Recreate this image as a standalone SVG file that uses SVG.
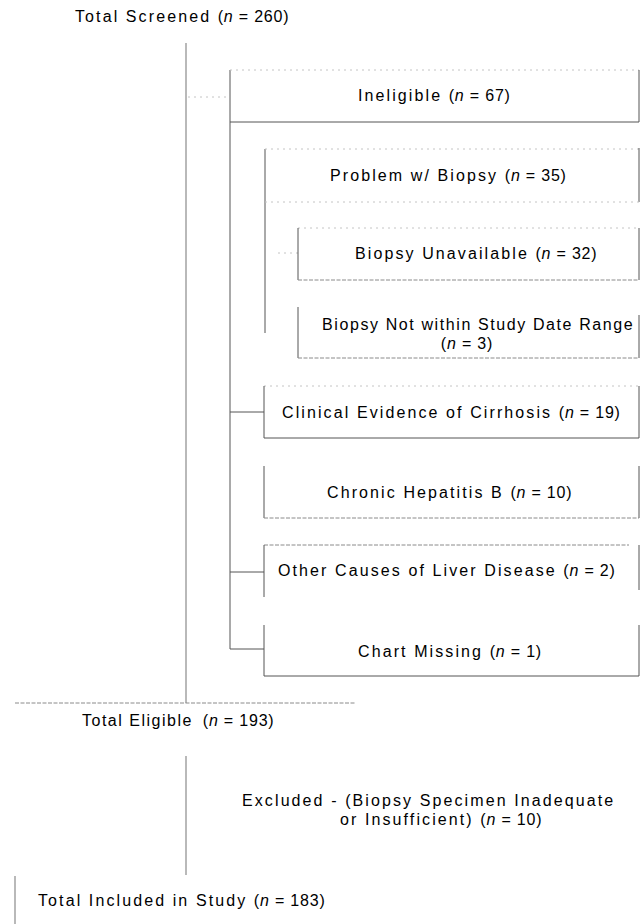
<svg xmlns="http://www.w3.org/2000/svg" width="642" height="924" viewBox="0 0 642 924">
<style>
text{font-family:"Liberation Sans",Arial,sans-serif;font-size:16px;fill:#000;letter-spacing:2.1px}
.p{letter-spacing:0.8px}
.i{font-style:italic}
.solid{stroke:#555;stroke-width:1;fill:none}
.faint{stroke:#c4c4c4;stroke-width:1;stroke-dasharray:2 4;fill:none}
.dot{stroke:#8a8a8a;stroke-width:1;stroke-dasharray:4 1.5;fill:none}
.main{stroke:#a8a8a8;stroke-width:1.6;fill:none}
</style>
<rect width="642" height="924" fill="#fff"/>
<g id="connectors">
<line class="main" x1="186" y1="43" x2="186" y2="703"/>
<line class="dot" x1="15" y1="703" x2="355" y2="703"/>
<line class="faint" x1="188" y1="97" x2="230" y2="97"/>
<line class="solid" x1="230" y1="70" x2="230" y2="649"/>
<line class="solid" x1="265" y1="149" x2="265" y2="333"/>
<line class="faint" x1="278" y1="253" x2="298" y2="253"/>
<line class="solid" stroke="#888" x1="230" y1="412" x2="264" y2="412"/>
<line class="solid" stroke="#888" x1="230" y1="572" x2="264" y2="572"/>
<line class="solid" x1="230" y1="649" x2="264" y2="649"/>
<line class="main" x1="186" y1="756" x2="186" y2="875"/>
<line class="main" x1="15" y1="876" x2="15" y2="924"/>
</g>
<g id="total-screened">
<text x="75" y="22">Total Screened <tspan class="p">(<tspan class="i">n</tspan> = 260)</tspan></text>
</g>
<g id="ineligible">
<line class="faint" x1="230" y1="70" x2="639" y2="70"/>
<line class="solid" x1="639" y1="70" x2="639" y2="122"/>
<line class="solid" x1="230" y1="122" x2="639" y2="122"/>
<text x="358" y="101">Ineligible <tspan class="p">(<tspan class="i">n</tspan> = 67)</tspan></text>
</g>
<g id="problem-biopsy">
<line class="faint" x1="265" y1="149" x2="639" y2="149"/>
<line class="solid" x1="639" y1="148" x2="639" y2="202"/>
<line class="faint" x1="265" y1="202" x2="639" y2="202"/>
<text x="330" y="181">Problem w/ Biopsy <tspan class="p">(<tspan class="i">n</tspan> = 35)</tspan></text>
</g>
<g id="biopsy-unavailable">
<line class="faint" x1="298" y1="228" x2="639" y2="228"/>
<line class="solid" x1="298" y1="228" x2="298" y2="280"/>
<line class="solid" x1="639" y1="228" x2="639" y2="280"/>
<line class="dot" x1="298" y1="280" x2="639" y2="280"/>
<text x="355" y="259">Biopsy Unavailable <tspan class="p">(<tspan class="i">n</tspan> = 32)</tspan></text>
</g>
<g id="biopsy-date-range">
<line class="solid" x1="298" y1="307" x2="298" y2="358"/>
<line class="solid" x1="639" y1="315" x2="639" y2="358"/>
<line class="dot" x1="298" y1="358" x2="639" y2="358"/>
<text x="322" y="330" style="letter-spacing:1.6px">Biopsy Not within Study Date Range</text>
<text x="467" y="349" text-anchor="middle" class="p">(<tspan class="i">n</tspan> = 3)</text>
</g>
<g id="cirrhosis">
<line class="faint" x1="264" y1="386" x2="639" y2="386"/>
<line class="solid" x1="264" y1="386" x2="264" y2="438"/>
<line class="solid" x1="639" y1="386" x2="639" y2="438"/>
<line class="solid" stroke="#777" x1="264" y1="438" x2="639" y2="438"/>
<text x="282" y="418">Clinical Evidence of Cirrhosis <tspan class="p">(<tspan class="i">n</tspan> = 19)</tspan></text>
</g>
<g id="hepatitis-b">
<line class="solid" x1="264" y1="466" x2="264" y2="518"/>
<line class="solid" x1="639" y1="466" x2="639" y2="518"/>
<line class="dot" x1="264" y1="518" x2="639" y2="518"/>
<text x="327" y="498">Chronic Hepatitis B <tspan class="p">(<tspan class="i">n</tspan> = 10)</tspan></text>
</g>
<g id="other-causes">
<line class="dot" x1="264" y1="545" x2="629" y2="545"/>
<line class="solid" x1="264" y1="545" x2="264" y2="597"/>
<line class="solid" x1="639" y1="545" x2="639" y2="590"/>
<text x="278" y="576">Other Causes of Liver Disease <tspan class="p">(<tspan class="i">n</tspan> = 2)</tspan></text>
</g>
<g id="chart-missing">
<line class="solid" x1="264" y1="625" x2="264" y2="676"/>
<line class="solid" x1="639" y1="625" x2="639" y2="676"/>
<line class="solid" stroke="#777" x1="264" y1="676" x2="639" y2="676"/>
<text x="358" y="657">Chart Missing <tspan class="p">(<tspan class="i">n</tspan> = 1)</tspan></text>
</g>
<g id="total-eligible">
<text x="82" y="726" style="letter-spacing:1.5px">Total Eligible <tspan class="p" dx="4">(<tspan class="i">n</tspan> = 193)</tspan></text>
</g>
<g id="excluded">
<text x="242" y="806">Excluded - (Biopsy Specimen Inadequate</text>
<text x="340" y="825">or Insufficient) <tspan class="p">(<tspan class="i">n</tspan> = 10)</tspan></text>
</g>
<g id="total-included">
<text x="38" y="906">Total Included in Study <tspan class="p">(<tspan class="i">n</tspan> = 183)</tspan></text>
</g>
</svg>
